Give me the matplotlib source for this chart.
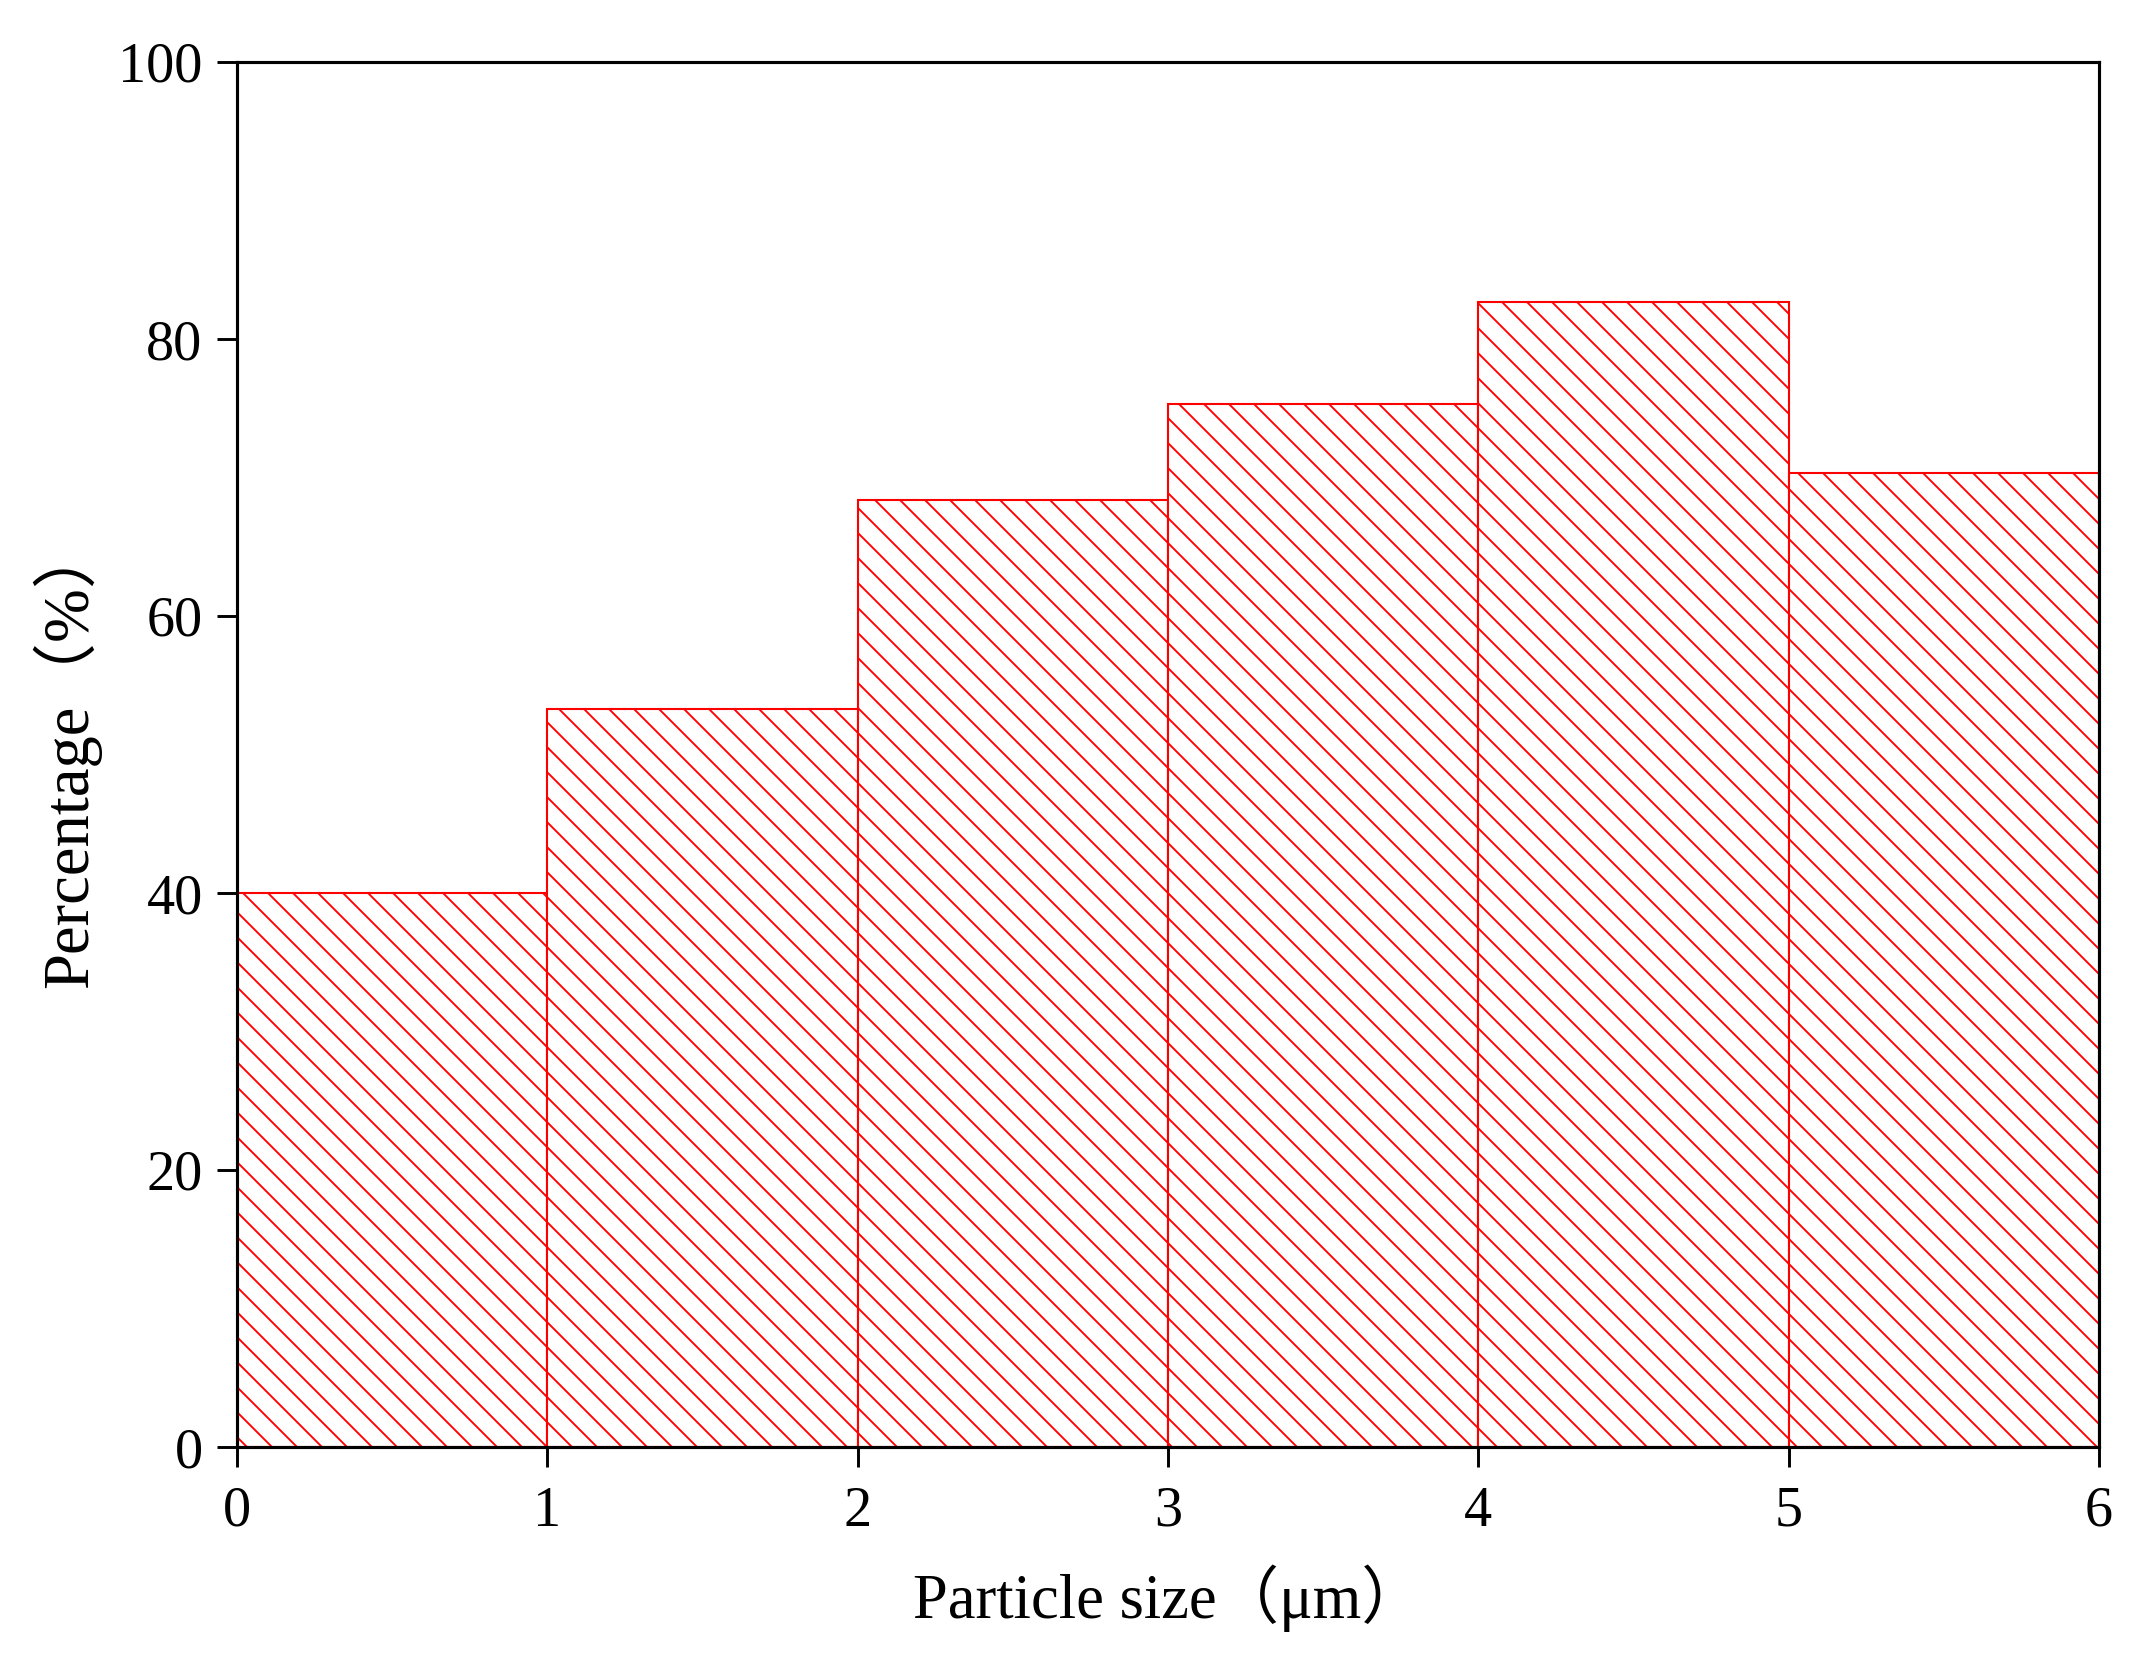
import matplotlib
matplotlib.use("Agg")
import matplotlib.pyplot as plt

# data
bin_left = [0, 1, 2, 3, 4, 5]
bin_width = [1, 1, 1, 1, 1, 1]
percentages = [40.0, 53.3, 68.4, 75.3, 82.7, 70.3]
x_ticks = [0, 1, 2, 3, 4, 5, 6]
y_ticks = [0, 20, 40, 60, 80, 100]

plt.rcParams['hatch.linewidth'] = 0.9
fam = ['Liberation Serif', 'Noto Sans CJK SC', 'DejaVu Sans']
plt.rcParams['font.family'] = fam

DPI = 150
fig = plt.figure(figsize=(2149 / DPI, 1670 / DPI), dpi=DPI)
ax = fig.add_axes([237 / 2149, 1 - 1447 / 1670, (2099 - 237) / 2149, (1447 - 62) / 1670])

ax.bar(bin_left, percentages, width=bin_width, align='edge', color='white',
       edgecolor='#ff0000', linewidth=1.0, hatch='\\\\', zorder=2)

ax.set_xlim(0, 6)
ax.set_ylim(0, 100)
ax.set_xticks(x_ticks)
ax.set_yticks(y_ticks)
ax.tick_params(axis='both', direction='out', length=9.5, width=1.4, labelsize=27,
               top=False, right=False)
ax.tick_params(axis='x', pad=9)
ax.tick_params(axis='y', pad=7)
for s in ax.spines.values():
    s.set_linewidth(1.5)
    s.set_zorder(3)

ax.set_xlabel('Particle size（μm）', fontsize=30, family=fam, labelpad=13)
ax.set_ylabel('Percentage（%）', fontsize=31, family=fam, labelpad=8)

fig.savefig('out.png', dpi=DPI, facecolor='white')
